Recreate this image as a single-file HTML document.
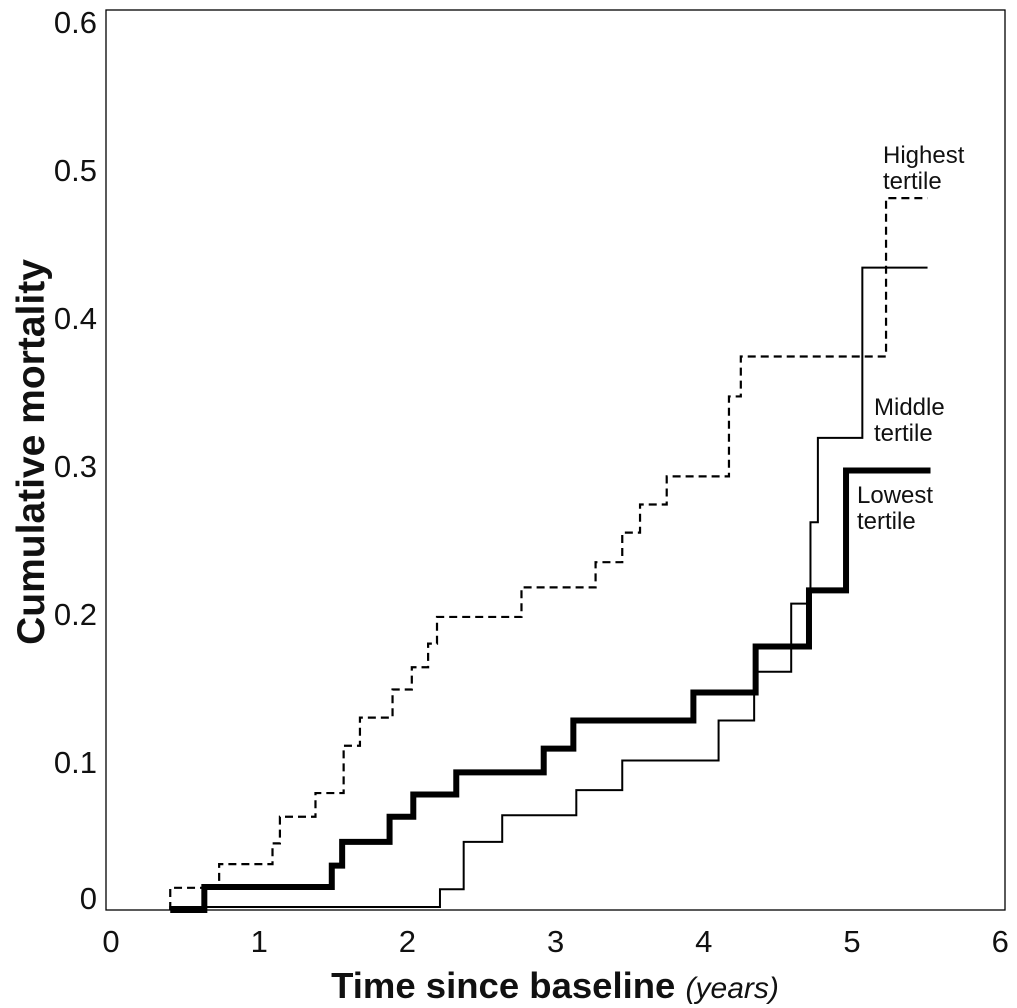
<!DOCTYPE html>
<html><head><meta charset="utf-8"><style>
body{margin:0;background:#fff;}
svg{display:block;}
text{font-family:"Liberation Sans",Arial,sans-serif;fill:#111;}
</style></head><body>
<svg id="chart" width="1017" height="1008" viewBox="0 0 1017 1008" xmlns="http://www.w3.org/2000/svg">
<rect x="106" y="10" width="899" height="900" fill="none" stroke="#000" stroke-width="1.3"/>
<g id="ticks"></g>
<g id="series"></g>
<text transform="translate(44,452) rotate(-90)" text-anchor="middle" font-size="39" font-weight="bold">Cumulative mortality</text>
<text x="555" y="998" text-anchor="middle" font-size="36.5"><tspan font-weight="bold">Time since baseline</tspan> <tspan font-style="italic" font-size="30">(years)</tspan></text>
<text x="883" y="163" font-size="24">Highest</text>
<text x="883" y="189" font-size="24">tertile</text>
<text x="874" y="415" font-size="24">Middle</text>
<text x="874" y="441" font-size="24">tertile</text>
<text x="857" y="503" font-size="24">Lowest</text>
<text x="857" y="529" font-size="24">tertile</text>
</svg>
<script>
const xTicks=[0,1,2,3,4,5,6];
const yTicks=[0,0.1,0.2,0.3,0.4,0.5,0.6];
const yTickLabels=["0","0.1","0.2","0.3","0.4","0.5","0.6"];
const highTimes=[0.42,0.75,1.11,1.16,1.40,1.59,1.70,1.92,2.05,2.16,2.22,2.79,3.29,3.47,3.59,3.77,4.19,4.27,5.25,5.53];
const highVals=[0.015,0.031,0.045,0.063,0.079,0.111,0.130,0.149,0.164,0.180,0.198,0.218,0.235,0.255,0.274,0.293,0.347,0.374,0.481,0.481];
const midTimes=[0.42,2.24,2.40,2.66,3.16,3.47,4.12,4.36,4.61,4.74,4.79,5.09,5.53];
const midVals=[0.002,0.014,0.046,0.064,0.081,0.101,0.128,0.161,0.207,0.262,0.319,0.434,0.434];
const lowTimes=[0.42,0.65,1.51,1.58,1.90,2.06,2.35,2.94,3.14,3.95,4.37,4.73,4.98,5.55];
const lowVals=[0.0,0.0155,0.030,0.046,0.063,0.078,0.093,0.109,0.128,0.147,0.178,0.216,0.297,0.297];
const X=v=>108+v*148.2, Y=v=>910-v*1480;
const NS="http://www.w3.org/2000/svg";
const tg=document.getElementById('ticks'), sg=document.getElementById('series');
xTicks.forEach((t,i)=>{const e=document.createElementNS(NS,'text');


e.setAttribute('x',X(t)+3);e.setAttribute('y',952);e.setAttribute('text-anchor','middle');e.setAttribute('font-size','31');e.textContent=String(t);tg.appendChild(e);});
yTicks.forEach((t,i)=>{const e=document.createElementNS(NS,'text');


let y=Y(t)+11; if(t===0) y=Y(t)-1;
e.setAttribute('x',97);e.setAttribute('y',y);e.setAttribute('text-anchor','end');e.setAttribute('font-size','31');e.textContent=yTickLabels[i];tg.appendChild(e);});
function step(ts,vs,name,w,dash){
 let d='M'+X(ts[0])+','+Y(0);
 for(let i=0;i<ts.length;i++){d+=' L'+X(ts[i])+','+Y(i===0?vs[0]:vs[i-1])+' L'+X(ts[i])+','+Y(vs[i]);}
 const p=document.createElementNS(NS,'path');
 
 
 p.setAttribute('d',d);p.setAttribute('fill','none');p.setAttribute('stroke','#000');p.setAttribute('stroke-width',w);
 if(dash)p.setAttribute('stroke-dasharray',dash);
 sg.appendChild(p);}
step(highTimes,highVals,'highest-tertile-line',2.2,'8,5');
step(midTimes,midVals,'middle-tertile-line',2,null);
step(lowTimes,lowVals,'lowest-tertile-line',6,null);
</script>
</body></html>
